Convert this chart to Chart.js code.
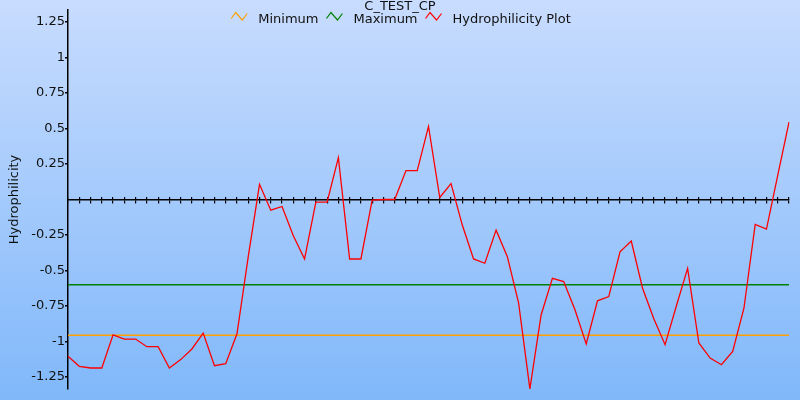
<!DOCTYPE html>
<html>
<head>
<meta charset="utf-8">
<script src="https://cdn.jsdelivr.net/npm/chart.js@4"></script>
<style>
html, body { margin: 0; padding: 0; background: #ffffff; }
canvas { display: block; }
</style>
</head>
<body>
<canvas id="chart" width="800" height="400"></canvas>
<script>
const chartTitle = 'C_TEST_CP';
const yAxisTitle = 'Hydrophilicity';
const seriesLabels = ['Minimum', 'Maximum', 'Hydrophilicity Plot'];

const residues = [1, 2, 3, 4, 5, 6, 7, 8, 9, 10, 11, 12, 13, 14, 15, 16, 17, 18, 19, 20,
  21, 22, 23, 24, 25, 26, 27, 28, 29, 30, 31, 32, 33, 34, 35, 36, 37, 38, 39, 40,
  41, 42, 43, 44, 45, 46, 47, 48, 49, 50, 51, 52, 53, 54, 55, 56, 57, 58, 59, 60,
  61, 62, 63, 64, 65];

const hydrophilicity = [
  -1.105, -1.175, -1.187, -1.187, -0.953, -0.983, -0.983, -1.037, -1.037, -1.187,
  -1.128, -1.053, -0.941, -1.171, -1.157, -0.946, -0.403, 0.107, -0.075, -0.049,
  -0.255, -0.419, -0.019, -0.019, 0.295, -0.419, -0.419, -0.005, 0.0, 0.0,
  0.204, 0.204, 0.515, 0.014, 0.112, -0.18, -0.419, -0.449, -0.216, -0.403,
  -0.73, -1.334, -0.812, -0.555, -0.578, -0.777, -1.018, -0.714, -0.684, -0.368,
  -0.293, -0.625, -0.84, -1.023, -0.75, -0.485, -1.011, -1.117, -1.164, -1.07,
  -0.766, -0.176, -0.209, 0.17, 0.545
];

const minimumValue = -0.956;
const maximumValue = -0.6;

const yTickValues = [-1.25, -1, -0.75, -0.5, -0.25, 0.25, 0.5, 0.75, 1, 1.25];
const yLimit = 1.335;

Chart.defaults.font.family = '"DejaVu Sans", Verdana, sans-serif';
Chart.defaults.font.size = 13;
Chart.defaults.color = '#111111';

const backgroundPlugin = {
  id: 'gradientBackground',
  beforeDraw(chart) {
    const ctx = chart.ctx;
    const g = ctx.createLinearGradient(0, 0, 0, chart.height);
    g.addColorStop(0, '#c8dcfe');
    g.addColorStop(1, '#80b8fa');
    ctx.save();
    ctx.fillStyle = g;
    ctx.fillRect(0, 0, chart.width, chart.height);
    ctx.restore();
  }
};

const titleLegendPlugin = {
  id: 'titleLegend',
  afterDraw(chart) {
    const ctx = chart.ctx;
    ctx.save();
    ctx.font = '13px "DejaVu Sans", Verdana, sans-serif';
    ctx.fillStyle = '#111111';
    ctx.textAlign = 'center';
    ctx.textBaseline = 'alphabetic';
    ctx.fillText(chartTitle, chart.width / 2, 9.5);

    const items = chart.data.datasets.map(d => ({ text: d.label, color: d.borderColor }));
    const iconW = 17, iconGap = 10, itemGap = 8;
    let total = 0;
    items.forEach((it, i) => {
      it.w = ctx.measureText(it.text).width;
      total += iconW + iconGap + it.w + (i ? itemGap : 0);
    });
    let x = chart.width / 2 - total / 2 + 1;
    ctx.textAlign = 'left';
    items.forEach(it => {
      ctx.strokeStyle = it.color;
      ctx.lineWidth = 1.2;
      ctx.beginPath();
      ctx.moveTo(x, 18.5);
      ctx.lineTo(x + 4.5, 12.5);
      ctx.lineTo(x + 11, 20);
      ctx.lineTo(x + 16, 13.5);
      ctx.stroke();
      ctx.fillText(it.text, x + iconW + iconGap, 23);
      x += iconW + iconGap + it.w + itemGap;
    });
    ctx.restore();
  }
};

const firstRes = residues[0];
const lastRes = residues[residues.length - 1];

new Chart(document.getElementById('chart'), {
  type: 'line',
  data: {
    labels: residues,
    datasets: [
      {
        label: seriesLabels[0],
        data: [{ x: firstRes, y: minimumValue }, { x: lastRes, y: minimumValue }],
        borderColor: '#ffa000',
        borderWidth: 1.4,
        order: 1
      },
      {
        label: seriesLabels[1],
        data: [{ x: firstRes, y: maximumValue }, { x: lastRes, y: maximumValue }],
        borderColor: '#008000',
        borderWidth: 1.5,
        order: 1
      },
      {
        label: seriesLabels[2],
        data: hydrophilicity,
        borderColor: '#ff0000',
        borderWidth: 1.3,
        order: 0
      }
    ]
  },
  options: {
    responsive: false,
    animation: false,
    events: [],
    layout: { padding: { top: 10, right: 11, bottom: 11, left: 0 } },
    elements: {
      line: { tension: 0, fill: false },
      point: { radius: 0, hoverRadius: 0 }
    },
    plugins: {
      legend: { display: false },
      title: { display: false },
      tooltip: { enabled: false }
    },
    scales: {
      x: {
        type: 'category',
        axis: 'x',
        position: { y: 0 },
        offset: false,
        border: { display: true, color: '#000000', width: 1.5 },
        grid: { drawOnChartArea: false, tickLength: 3, color: '#000000', lineWidth: 1.2 },
        ticks: { display: false, autoSkip: false }
      },
      x2: {
        type: 'category',
        axis: 'x',
        position: { y: 0.021 },
        offset: false,
        border: { display: false },
        grid: { drawOnChartArea: false, tickLength: 3, color: '#000000', lineWidth: 1.2 },
        ticks: { display: false, autoSkip: false }
      },
      y: {
        type: 'linear',
        position: 'left',
        min: -yLimit,
        max: yLimit,
        afterBuildTicks: s => { s.ticks = yTickValues.map(v => ({ value: v })); },
        afterFit: s => { s.width = 68; },
        border: { display: true, color: '#000000', width: 1.5 },
        grid: { drawOnChartArea: false, tickLength: 3, color: '#000000', lineWidth: 1.5 },
        ticks: { padding: 0, color: '#111111', font: { size: 13 }, callback: v => String(v) },
        title: {
          display: true,
          text: yAxisTitle,
          color: '#111111',
          font: { size: 13 },
          padding: { top: 7, bottom: 0 }
        }
      }
    }
  },
  plugins: [backgroundPlugin, titleLegendPlugin]
});
</script>
</body>
</html>
